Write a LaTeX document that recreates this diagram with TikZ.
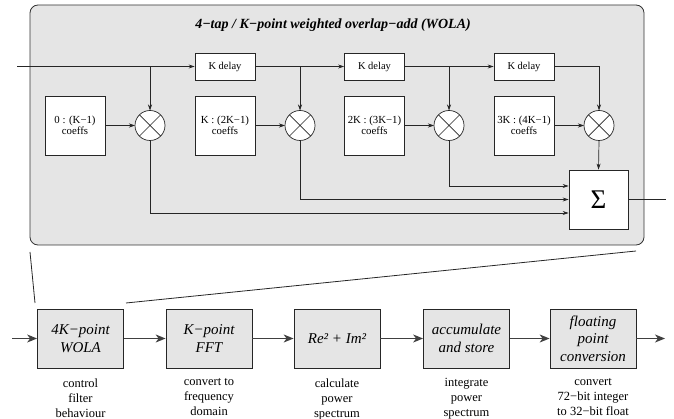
\documentclass[tikz,border=0pt]{standalone}
\usepackage{fontspec}
\setmainfont{Liberation Serif}
\usetikzlibrary{arrows.meta}
\begin{document}
\begin{tikzpicture}[x=1pt,y=-1pt,
  line/.style={draw=black!85,line width=0.7pt},
  sarr/.style={line,-{Stealth[length=6pt,width=4pt]}},
  barr/.style={draw=black!75,line width=1.1pt,-{Stealth[length=10pt,width=8pt,inset=3pt]}},
  delaybox/.style={draw=black!85,fill=white,line width=0.7pt,minimum width=60pt,minimum height=27pt,inner sep=0pt,font=\fontsize{10.5}{11.5}\selectfont},
  coefbox/.style={draw=black!85,fill=white,line width=0.7pt,minimum width=60pt,minimum height=59pt,inner sep=0pt,align=center,font=\fontsize{10.8}{11.5}\selectfont},
  mult/.style={circle,draw=black!85,fill=white,line width=0.7pt,minimum size=30pt,inner sep=0pt,outer sep=0pt},
  stagebox/.style={draw=black!85,fill=gray!20,line width=0.8pt,minimum width=86pt,minimum height=59pt,inner sep=0pt,align=center,font=\fontsize{15}{17.5}\selectfont\itshape},
  desc/.style={align=center,anchor=north,inner sep=0pt,font=\fontsize{12.5}{15}\selectfont}
]
\useasboundingbox (0,0) rectangle (674,419);
% big box
\node[draw=black!80,fill=gray!20,line width=0.8pt,rounded corners=8pt,minimum width=614pt,minimum height=240pt,inner sep=0pt] (wola) at (337,125) {};
\node[font=\fontsize{14}{15}\selectfont\bfseries\itshape] (title) at (333,25) {4−tap / K−point weighted overlap−add (WOLA)};
% delays
\node[delaybox] (d1) at (225,66.5) {K delay};
\node[delaybox] (d2) at (374.5,66.5) {K delay};
\node[delaybox] (d3) at (524,66.5) {K delay};
% coeffs
\node[coefbox] (c1) at (75,125.5) {0 : (K−1)\\coeffs};
\node[coefbox] (c2) at (225,125.5) {K : (2K−1)\\coeffs};
\node[coefbox] (c3) at (374.5,125.5) {2K : (3K−1)\\coeffs};
\node[coefbox] (c4) at (524,125.5) {3K : (4K−1)\\coeffs};
% multipliers
\foreach \n/\x in {m1/150,m2/300,m3/449,m4/599}{
  \node[mult] (\n) at (\x,125.5) {};
  \draw[line] (\n.north east) -- (\n.south west) (\n.north west) -- (\n.south east);
}
% sum
\node[draw=black!85,fill=white,line width=0.8pt,minimum width=59pt,minimum height=59pt,inner sep=0pt,font=\fontsize{27}{27}\selectfont] (sum) at (598.5,199.5) {Σ};
\coordinate (in) at (17,66.5);
\coordinate (out) at (666,199.5);
% connections
\draw[sarr] (in) -- (d1.west);
\draw[sarr] (m1.north |- d1.west) -- (m1.north);
\draw[sarr] (d1.east) -- (d2.west);
\draw[sarr] (m2.north |- d2.west) -- (m2.north);
\draw[sarr] (d2.east) -- (d3.west);
\draw[sarr] (m3.north |- d3.west) -- (m3.north);
\draw[sarr] (d3.east) -| (m4.north);
\draw[sarr] (c1.east) -- (m1.west);
\draw[sarr] (c2.east) -- (m2.west);
\draw[sarr] (c3.east) -- (m3.west);
\draw[sarr] (c4.east) -- (m4.west);
\draw[sarr] (m4.south) -- (sum.north);
\draw[sarr] (m3.south) |- ([yshift=13.5pt]sum.west);
\draw[sarr] (m2.south) |- (sum.west);
\draw[sarr] (m1.south) |- ([yshift=-13.5pt]sum.west);
\draw[line] (sum.east) -- (out);
% lower row
\node[stagebox] (b1) at (80.5,338.5) {4K−point\\WOLA};
\node[stagebox] (b2) at (209,338.5) {K−point\\FFT};
\node[stagebox] (b3) at (337,338.5) {Re² + Im²};
\node[stagebox] (b4) at (466.5,338.5) {accumulate\\and store};
\node[stagebox] (b5) at (593,338.5) {floating\\point\\conversion};
\coordinate (lin) at (12,338.5);
\coordinate (lout) at (665,338.5);
\draw[barr] (lin) -- (b1.west);
\draw[barr] (b1.east) -- (b2.west);
\draw[barr] (b2.east) -- (b3.west);
\draw[barr] (b3.east) -- (b4.west);
\draw[barr] (b4.east) -- (b5.west);
\draw[barr] (b5.east) -- (lout);
\node[desc] (t1) at (80.5,378.5) {control\\filter\\behaviour};
\node[desc] (t2) at (209,378.5) {convert to\\frequency\\domain};
\node[desc] (t3) at (337,378.5) {calculate\\power\\spectrum};
\node[desc] (t4) at (466.5,378.5) {integrate\\power\\spectrum};
\node[desc] (t5) at (593,378.5) {convert\\72−bit integer\\to 32−bit float};
% funnel
\coordinate (fl1) at (30,252);
\coordinate (fl2) at (35,303);
\coordinate (fr1) at (636,251);
\coordinate (fr2) at (126,303);
\draw[line,line width=0.8pt] (fl1) -- (fl2);
\draw[line,line width=0.8pt] (fr2) -- (fr1);
\end{tikzpicture}
\end{document}
